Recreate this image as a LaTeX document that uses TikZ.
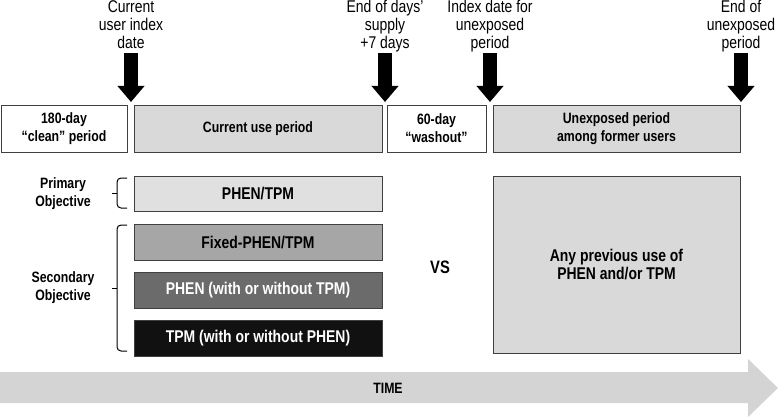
\documentclass[tikz,border=0pt]{standalone}
\usepackage{fontspec}
\setmainfont{Liberation Sans}[FakeStretch=0.82]
\usetikzlibrary{positioning,arrows.meta}

\definecolor{boxgray}{HTML}{D9D9D9}
\definecolor{palegray}{HTML}{E0E0E0}
\definecolor{fixedgray}{HTML}{A6A6A6}
\definecolor{phengray}{HTML}{6B6B6B}
\definecolor{tpmblack}{HTML}{111111}
\definecolor{timegray}{HTML}{D4D4D4}
\definecolor{edgegray}{HTML}{404040}

\begin{document}
\begin{tikzpicture}[x=1pt,y=-1pt,
    period/.style={draw=edgegray, line width=0.9pt, minimum height=47pt, inner sep=0pt,
        align=center, font=\fontsize{15}{18}\selectfont\bfseries},
    arm/.style={draw=edgegray, line width=0.9pt, minimum width=248pt, minimum height=35.5pt,
        inner sep=0pt, align=center, font=\fontsize{17}{18}\selectfont\bfseries},
    event/.style={align=center, inner sep=0pt, text depth=4pt, font=\fontsize{17}{18}\selectfont},
    pointer/.style={line width=14pt, -{Triangle[length=16pt,width=26pt]}},
    objective/.style={align=center, font=\fontsize{15}{18}\selectfont\bfseries},
    bracket/.style={line width=1pt, rounded corners=4pt}]

            \useasboundingbox (0,0) rectangle (778,417);

            % Draw the periods along the top
            \node[period, fill=white, minimum width=126pt] (clean) at (64,128.5) {180-day\\“clean” period};
            \node[period, fill=boxgray, minimum width=248pt] (current) at (258,128.5) {Current use period};
            \node[period, fill=white, minimum width=99pt] (washout) at (436.5,128.5) {60-day\\“washout”};
            \node[period, fill=boxgray, minimum width=247pt] (unexposed) at (616.5,128.5) {Unexposed period\\among former users};

            % Draw the dates and their arrows
            \coordinate (t1) at (131,102);
            \coordinate (t2) at (385,102);
            \coordinate (t3) at (490,102);
            \coordinate (t4) at (741,102);

            \node[event, anchor=south] (indexdate) at (131,53) {Current\\user index\\date};
            \node[event, anchor=south] (supplyend) at (385,53) {End of days’\\supply\\+7 days};
            \node[event, anchor=south] (formerdate) at (490,53) {Index date for\\unexposed\\period};
            \node[event, anchor=south] (formerend) at (741,53) {End of\\unexposed\\period};

            \draw[pointer] (indexdate) -- (t1);
            \draw[pointer] (supplyend) -- (t2);
            \draw[pointer] (formerdate) -- (t3);
            \draw[pointer] (formerend) -- (t4);

            % Draw the exposure groups
            \node[arm, fill=palegray] (primary) at (258,194) {PHEN/TPM};
            \node[arm, fill=fixedgray, below=11.8pt of primary] (fixed) {Fixed-PHEN/TPM};
            \node[arm, fill=phengray, text=white, below=11.8pt of fixed] (phen) {PHEN (with or without TPM)};
            \node[arm, fill=tpmblack, text=white, below=11.8pt of phen] (tpm) {TPM (with or without PHEN)};

            \node[objective] (primlabel) at (63,194) {Primary\\Objective};
            \node[objective] (seclabel) at (63,288) {Secondary\\Objective};

            \draw[bracket] (127,178) -- (117,178) -- (117,208) -- (127,208);
            \draw[bracket] (112,193) -- (117,193);
            \draw[bracket] (127,225) -- (117,225) -- (117,351) -- (127,351);
            \draw[bracket] (112,288) -- (117,288);

            % Draw the comparator
            \node[font=\fontsize{18}{20}\selectfont\bfseries] (vs) at (440,267) {VS};
            \node[arm, fill=boxgray, minimum width=247pt, minimum height=177pt] (previous) at (616.5,264.5) {Any previous use of\\PHEN and/or TPM};

            % Draw the time axis
            \fill[timegray] (0,372) -- (748,372) -- (748,359) -- (778,388) -- (748,417) -- (748,403) -- (0,403) -- cycle;
            \node[font=\fontsize{15}{18}\selectfont\bfseries] (time) at (388,388) {TIME};

        \end{tikzpicture}
\end{document}
